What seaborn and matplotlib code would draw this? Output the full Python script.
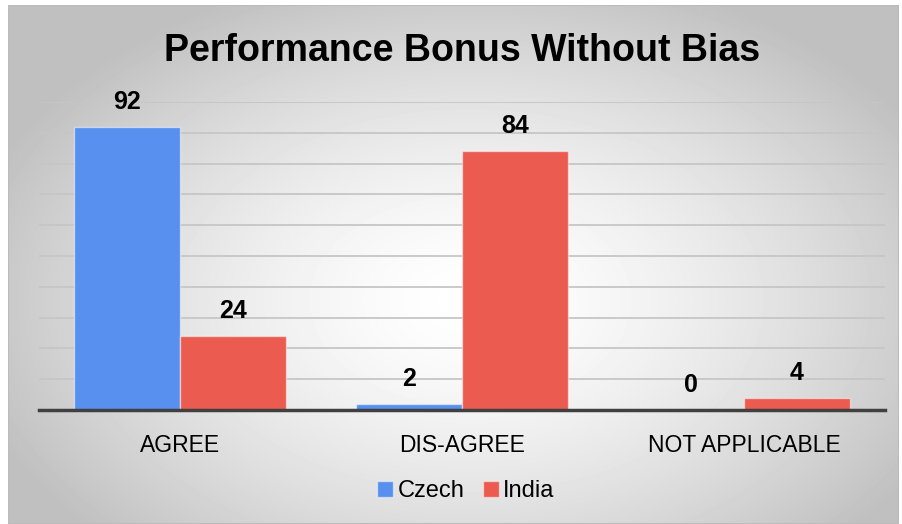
import matplotlib
matplotlib.use("Agg")
import matplotlib.pyplot as plt
import seaborn as sns
import numpy as np
import pandas as pd
from matplotlib.patches import Rectangle

categorias = ['AGREE', 'DIS-AGREE', 'NOT APPLICABLE']
czech = [92, 2, 0]
india = [24, 84, 4]
paises = ['Czech', 'India']
colores = ['#5890F0', '#EB5B50']

datos = pd.DataFrame({
    'categoria': categorias * 2,
    'pais': [paises[0]] * 3 + [paises[1]] * 3,
    'valor': czech + india,
})

sns.set_style('white')
plt.rcParams['font.family'] = ['Liberation Sans', 'DejaVu Sans']
plt.rcParams['text.color'] = 'black'
plt.rcParams['xtick.color'] = 'black'

fig = plt.figure(figsize=(9.02, 5.24), dpi=100)

# fondo con degradado radial (zona del grafico desde x=8, y=5)
x0, y0, x1, y1 = 8, 5, 899, 524
fondo = fig.add_axes([x0 / 902, 1 - y1 / 524, (x1 - x0) / 902, (y1 - y0) / 524], zorder=-10)
yy, xx = np.mgrid[y0:y1, x0:x1]
d = np.sqrt(((xx - 470) / 520.0) ** 2 + ((yy - 300) / 340.0) ** 2)
gris = 1 - 0.25 * np.clip(d, 0, 1) ** 1.5
fondo.imshow(gris, cmap='gray', vmin=0, vmax=1, aspect='auto', extent=[0, 1, 0, 1])
fondo.add_patch(Rectangle((0, 0), 1, 1, fill=False, ec='#bcbcbc', lw=1.5,
                          transform=fondo.transAxes))
fondo.axis('off')

ax = fig.add_axes([39 / 902, 1 - 410 / 524, (885 - 39) / 902, (410 - 102) / 524])
ax.patch.set_alpha(0)

sns.barplot(data=datos, x='categoria', y='valor', hue='pais', palette=colores,
            width=0.75, ax=ax, edgecolor=(1, 1, 1, 0.5), linewidth=1, zorder=3, saturation=1)

ax.set_ylim(0, 100)
ax.set_yticks(np.arange(0, 101, 10))
ax.yaxis.grid(True, color='#c6c6c6', lw=1.3, zorder=0)
ax.set_axisbelow(True)
ax.tick_params(axis='y', left=False, labelleft=False)
ax.tick_params(axis='x', bottom=False, labelsize=16.5, pad=14, labelcolor='black')
for s in ['top', 'right', 'left']:
    ax.spines[s].set_visible(False)
ax.spines['bottom'].set_color('#404040')
ax.spines['bottom'].set_linewidth(2.5)
ax.spines['bottom'].set_zorder(5)
ax.set_xlabel('')
ax.set_ylabel('')

for cont in ax.containers:
    for barra in cont:
        h = barra.get_height()
        ax.annotate(f'{h:.0f}', (barra.get_x() + barra.get_width() / 2, h),
                    xytext=(0, 18), textcoords='offset points', ha='center', va='center',
                    fontsize=18, fontweight='bold', color='black', annotation_clip=False)

ax.get_legend().remove()
handles, labels = ax.get_legend_handles_labels()
fig.legend(handles, labels, loc='center', bbox_to_anchor=(466 / 902, 1 - 491 / 524), ncol=2,
           frameon=False, fontsize=17, handlelength=0.65, handleheight=0.65,
           handletextpad=0.2, columnspacing=0.8, labelcolor='black')

fig.text(462 / 902, 1 - 51 / 524, 'Performance Bonus Without Bias', ha='center', va='center',
         fontsize=27, fontweight='bold', color='black')

fig.savefig('out.png', dpi=100)
